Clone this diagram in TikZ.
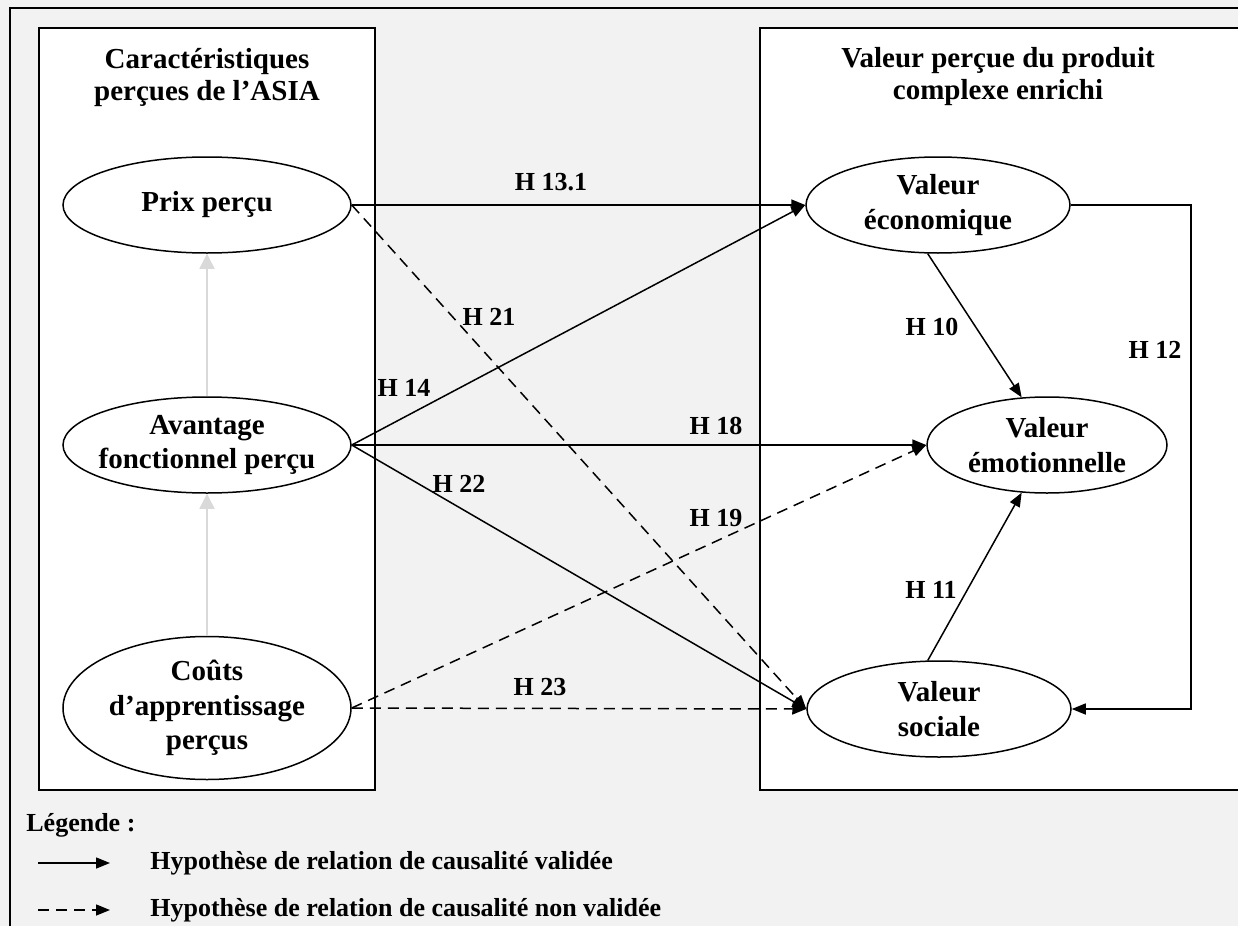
\documentclass[tikz,border=0pt]{standalone}
\usepackage{fontspec}
\setmainfont{Liberation Serif}
\usetikzlibrary{arrows.meta,shapes.geometric}
\definecolor{panel}{HTML}{F2F2F2}
\definecolor{faint}{HTML}{D9D9D9}
\tikzset{>={Triangle[length=7pt,width=5.5pt]},
  every node/.style={font=\fontsize{13}{15}\selectfont\bfseries},
  construct/.style={ellipse,draw,line width=.75pt,fill=white,inner xsep=-6pt,
    inner ysep=-3pt,align=center,font=\fontsize{14.5}{17.2}\selectfont\bfseries},
  frame/.style={draw,line width=1.1pt,fill=white},
  valid/.style={->,line width=.75pt},
  rejected/.style={->,line width=.75pt,dash pattern=on 5.5pt off 3.5pt},
  order/.style={-{Triangle[length=7.5pt,width=7.5pt]},draw=faint,line width=.7pt},
  hlabel/.style={inner sep=0pt}}

\begin{document}
\begin{tikzpicture}[x=.5pt,y=-.5pt]
\clip (0,0) rectangle (1238,926);
\fill[panel] (0,0) rectangle (1238,926);
\draw[line width=1.2pt] (10,940) -- (10,8) -- (1250,8);
\draw[frame] (39,28) rectangle (375,790);
\draw[frame] (760,28) rectangle (1250,790);
% titres des blocs
\node[align=center,font=\fontsize{14.5}{16}\selectfont\bfseries] (lefttitle) at (207,78) {Caractéristiques\\perçues de l’ASIA};
\node[align=center,font=\fontsize{14.5}{16}\selectfont\bfseries] (righttitle) at (998,77) {Valeur perçue du produit\\complexe enrichi};
% construits
\node[construct,minimum width=144pt,minimum height=48pt] (prix) at (207,205) {Prix perçu};
\node[construct,minimum width=144pt,minimum height=48pt] (avant) at (207,445) {Avantage\\fonctionnel perçu};
\node[construct,minimum width=144pt,minimum height=71.5pt] (couts) at (207,708) {Coûts\\d’apprentissage\\perçus};
\node[construct,minimum width=132pt,minimum height=48pt] (eco) at (938,205) {Valeur\\économique};
\node[construct,minimum width=120pt,minimum height=48pt] (emo) at (1047,445) {Valeur\\émotionnelle};
\node[construct,minimum width=132pt,minimum height=48pt] (soc) at (939,709) {Valeur\\sociale};
\draw[order] (couts) -- (avant);\draw[order] (avant) -- (prix);
% hypotheses
\draw[valid] (prix.east) -- (eco.west);\draw[rejected] (prix.east) -- (soc.west);
\draw[valid] (avant.east) -- (eco.west);\draw[valid] (avant.east) -- (emo.west);\draw[valid] (avant.east) -- (soc.west);
\draw[rejected] (couts.east) -- (emo.west);\draw[rejected] (couts.east) -- (soc.west);
\draw[valid] (eco.258) -- (emo.118);\draw[valid] (soc.103) -- (emo.242);
\coordinate (bend) at (1191,205);
\draw[valid] (eco.east) -- (bend) |- (soc.east);
\node[hlabel] (h131) at (551,182) {H 13.1};
\node[hlabel] (h21) at (489,317) {H 21};
\node[hlabel] (h14) at (404,388) {H 14};
\node[hlabel] (h18) at (716,426) {H 18};
\node[hlabel] (h22) at (459,484) {H 22};
\node[hlabel] (h19) at (716,518) {H 19};
\node[hlabel] (h23) at (540,687) {H 23};
\node[hlabel] (h10) at (932,327) {H 10};
\node[hlabel] (h12) at (1155,350) {H 12};
\node[hlabel] (h11) at (931,590) {H 11};
% legende
\node[hlabel,anchor=west] (legende) at (26,825) {Légende :};
\coordinate (solidfrom) at (38,863);\coordinate (solidto) at (110,863);
\coordinate (dashfrom) at (38,910);\coordinate (dashto) at (110,910);
\draw[valid] (solidfrom) -- (solidto);
\draw[rejected] (dashfrom) -- (dashto);
\node[hlabel,anchor=west] (validtxt) at (150,863) {Hypothèse de relation de causalité validée};
\node[hlabel,anchor=west] (rejecttxt) at (150,910) {Hypothèse de relation de causalité non validée};
\end{tikzpicture}
\end{document}
